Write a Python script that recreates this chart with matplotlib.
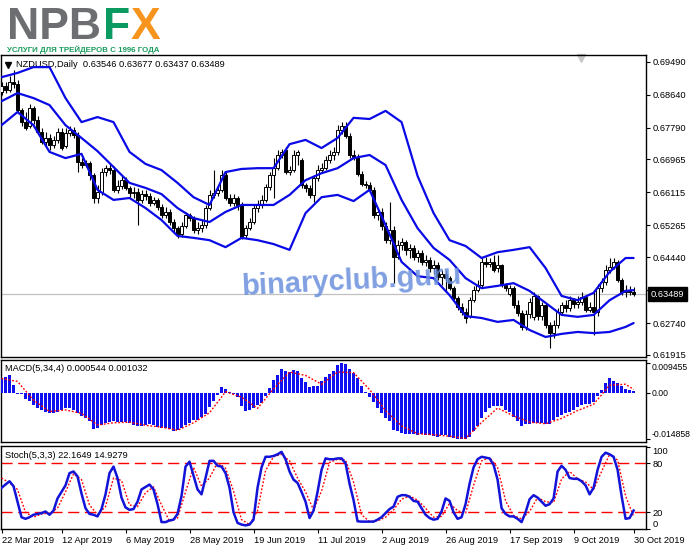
import matplotlib
matplotlib.use("Agg")
import matplotlib.pyplot as plt
import numpy as np

W, H = 691, 549

# NZDUSD daily candles, 22 Mar 2019 .. 30 Oct 2019
OPEN = [
    0.6871, 0.6886, 0.6876, 0.6897, 0.6892, 0.6824, 0.6793, 0.6783, 0.6829, 0.6798,
    0.6767, 0.6742, 0.6752, 0.6734, 0.6747, 0.6767, 0.6731, 0.6765, 0.6773, 0.6760,
    0.6690, 0.6682, 0.6687, 0.6656, 0.6597, 0.6612, 0.6664, 0.6674, 0.6669, 0.6618,
    0.6628, 0.6643, 0.6623, 0.6610, 0.6612, 0.6592, 0.6607, 0.6602, 0.6584, 0.6592,
    0.6574, 0.6553, 0.6561, 0.6535, 0.6519, 0.6504, 0.6525, 0.6553, 0.6545, 0.6514,
    0.6519, 0.6527, 0.6571, 0.6605, 0.6610, 0.6618, 0.6656, 0.6597, 0.6584, 0.6597,
    0.6579, 0.6501, 0.6519, 0.6535, 0.6571, 0.6579, 0.6592, 0.6625, 0.6656, 0.6674,
    0.6708, 0.6721, 0.6664, 0.6669, 0.6708, 0.6695, 0.6631, 0.6623, 0.6605, 0.6649,
    0.6669, 0.6674, 0.6695, 0.6708, 0.6716, 0.6773, 0.6783, 0.6757, 0.6708, 0.6703,
    0.6659, 0.6633, 0.6631, 0.6618, 0.6553, 0.6561, 0.6525, 0.6488, 0.6514, 0.6445,
    0.6476, 0.6483, 0.6463, 0.6468, 0.6445, 0.6455, 0.6432, 0.6437, 0.6416, 0.6424,
    0.6393, 0.6401, 0.6390, 0.6364, 0.6339, 0.6315, 0.6302, 0.6292, 0.6333, 0.6359,
    0.6372, 0.6432, 0.6427, 0.6432, 0.6416, 0.6424, 0.6372, 0.6349, 0.6364, 0.6320,
    0.6300, 0.6264, 0.6297, 0.6290, 0.6344, 0.6292, 0.6320, 0.6269, 0.6248, 0.6269,
    0.6302, 0.6320, 0.6313, 0.6333, 0.6323, 0.6328, 0.6341, 0.6308, 0.6315, 0.6302,
    0.6364, 0.6380, 0.6411, 0.6419, 0.6432, 0.6385, 0.6354, 0.6359, 0.63546,
]
HIGH = [
    0.6897, 0.6897, 0.6912, 0.6928, 0.6902, 0.6829, 0.6819, 0.6840, 0.6835, 0.6809,
    0.6778, 0.6767, 0.6762, 0.6757, 0.6778, 0.6778, 0.6778, 0.6783, 0.6780, 0.6767,
    0.6700, 0.6695, 0.6693, 0.6662, 0.6631, 0.6674, 0.6682, 0.6685, 0.6680, 0.6643,
    0.6654, 0.6651, 0.6628, 0.6625, 0.6623, 0.6618, 0.6618, 0.6610, 0.6600, 0.6597,
    0.6582, 0.6574, 0.6569, 0.6543, 0.6525, 0.6535, 0.6561, 0.6558, 0.6550, 0.6535,
    0.6540, 0.6579, 0.6618, 0.6669, 0.6628, 0.6669, 0.6664, 0.6607, 0.6607, 0.6602,
    0.6587, 0.6527, 0.6545, 0.6579, 0.6592, 0.6605, 0.6633, 0.6664, 0.6700, 0.6721,
    0.6724, 0.6729, 0.6680, 0.6721, 0.6721, 0.6700, 0.6636, 0.6631, 0.6656, 0.6682,
    0.6687, 0.6705, 0.6721, 0.6729, 0.6785, 0.6793, 0.6793, 0.6765, 0.6721, 0.6711,
    0.6667, 0.6641, 0.6638, 0.6625, 0.6566, 0.6571, 0.6535, 0.6587, 0.6525, 0.6488,
    0.6494, 0.6488, 0.6478, 0.6476, 0.6463, 0.6463, 0.6450, 0.6445, 0.6437, 0.6432,
    0.6411, 0.6411, 0.6395, 0.6370, 0.6344, 0.6326, 0.6313, 0.6341, 0.6370, 0.6385,
    0.6445, 0.6445, 0.6442, 0.6450, 0.6450, 0.6427, 0.6377, 0.6372, 0.6370, 0.6333,
    0.6308, 0.6308, 0.6339, 0.6354, 0.6346, 0.6328, 0.6326, 0.6277, 0.6282, 0.6313,
    0.6328, 0.6333, 0.6344, 0.6339, 0.6344, 0.6354, 0.6346, 0.6328, 0.6359, 0.6375,
    0.6390, 0.6424, 0.6442, 0.6442, 0.6437, 0.6390, 0.6372, 0.6370, 0.63677,
]
LOW = [
    0.6863, 0.6868, 0.6871, 0.6881, 0.6817, 0.6783, 0.6773, 0.6778, 0.6788, 0.6762,
    0.6737, 0.6731, 0.6721, 0.6726, 0.6739, 0.6721, 0.6726, 0.6757, 0.6752, 0.6664,
    0.6674, 0.6677, 0.6643, 0.6584, 0.6584, 0.6605, 0.6654, 0.6659, 0.6612, 0.6610,
    0.6620, 0.6618, 0.6600, 0.6597, 0.6527, 0.6584, 0.6592, 0.6576, 0.6579, 0.6566,
    0.6545, 0.6545, 0.6527, 0.6509, 0.6494, 0.6496, 0.6519, 0.6538, 0.6507, 0.6504,
    0.6509, 0.6519, 0.6566, 0.6597, 0.6602, 0.6612, 0.6592, 0.6576, 0.6576, 0.6566,
    0.6491, 0.6494, 0.6514, 0.6530, 0.6561, 0.6571, 0.6587, 0.6618, 0.6597, 0.6669,
    0.6700, 0.6659, 0.6656, 0.6664, 0.6682, 0.6623, 0.6612, 0.6597, 0.6587, 0.6641,
    0.6662, 0.6669, 0.6687, 0.6695, 0.6708, 0.6762, 0.6752, 0.6700, 0.6695, 0.6654,
    0.6628, 0.6623, 0.6612, 0.6545, 0.6540, 0.6514, 0.6481, 0.6478, 0.6377, 0.6439,
    0.6463, 0.6450, 0.6442, 0.6437, 0.6432, 0.6424, 0.6421, 0.6406, 0.6401, 0.6385,
    0.6372, 0.6354, 0.6359, 0.6333, 0.6308, 0.6295, 0.6274, 0.6287, 0.6328, 0.6354,
    0.6367, 0.6419, 0.6419, 0.6406, 0.6406, 0.6367, 0.6357, 0.6344, 0.6313, 0.6292,
    0.6256, 0.6256, 0.6287, 0.6282, 0.6282, 0.6282, 0.6261, 0.6209, 0.6235, 0.6261,
    0.6295, 0.6302, 0.6305, 0.6313, 0.6313, 0.6320, 0.6302, 0.6302, 0.6243, 0.6292,
    0.6354, 0.6372, 0.6403, 0.6413, 0.6380, 0.6346, 0.6341, 0.6346, 0.63437,
]
CLOSE = [
    0.6886, 0.6876, 0.6897, 0.6892, 0.6824, 0.6793, 0.6778, 0.6829, 0.6798, 0.6767,
    0.6742, 0.6752, 0.6734, 0.6747, 0.6767, 0.6726, 0.6765, 0.6773, 0.6760, 0.6690,
    0.6682, 0.6687, 0.6656, 0.6597, 0.6612, 0.6664, 0.6674, 0.6669, 0.6618, 0.6628,
    0.6643, 0.6623, 0.6610, 0.6612, 0.6592, 0.6607, 0.6602, 0.6584, 0.6592, 0.6574,
    0.6553, 0.6561, 0.6535, 0.6519, 0.6504, 0.6525, 0.6553, 0.6545, 0.6514, 0.6519,
    0.6527, 0.6571, 0.6605, 0.6610, 0.6618, 0.6656, 0.6597, 0.6584, 0.6597, 0.6579,
    0.6496, 0.6519, 0.6535, 0.6571, 0.6579, 0.6592, 0.6625, 0.6656, 0.6674, 0.6708,
    0.6716, 0.6664, 0.6669, 0.6708, 0.6716, 0.6631, 0.6623, 0.6605, 0.6649, 0.6669,
    0.6674, 0.6695, 0.6708, 0.6716, 0.6773, 0.6783, 0.6757, 0.6708, 0.6703, 0.6659,
    0.6633, 0.6631, 0.6618, 0.6553, 0.6561, 0.6525, 0.6488, 0.6514, 0.6445, 0.6476,
    0.6483, 0.6463, 0.6468, 0.6445, 0.6455, 0.6432, 0.6437, 0.6416, 0.6424, 0.6393,
    0.6401, 0.6390, 0.6364, 0.6339, 0.6315, 0.6302, 0.6287, 0.6333, 0.6359, 0.6372,
    0.6432, 0.6427, 0.6432, 0.6411, 0.6424, 0.6372, 0.6364, 0.6364, 0.6320, 0.6300,
    0.6264, 0.6297, 0.6328, 0.6344, 0.6292, 0.6320, 0.6269, 0.6248, 0.6269, 0.6302,
    0.6320, 0.6313, 0.6333, 0.6323, 0.6328, 0.6341, 0.6308, 0.6315, 0.6302, 0.6364,
    0.6380, 0.6411, 0.6419, 0.6432, 0.6385, 0.6354, 0.6359, 0.6354, 0.63489,
]

# Bollinger bands, read every 4th bar
BAND_IDX = list(range(0, 157, 4)) + [158]
BB_UPPER = [
    0.6909, 0.6920, 0.6935, 0.6935, 0.6855, 0.6793, 0.6806, 0.6793, 0.6716, 0.6685,
    0.6669, 0.6636, 0.6599, 0.6579, 0.6664, 0.6672, 0.6674, 0.6674, 0.6736, 0.6747,
    0.6726, 0.6752, 0.6804, 0.6801, 0.6822, 0.6793, 0.6654, 0.6558, 0.6488, 0.6473,
    0.6442, 0.6457, 0.6463, 0.6470, 0.6416, 0.6344, 0.6333, 0.6352, 0.6406, 0.6442,
    0.6442,
]
BB_MIDDLE = [
    0.6847, 0.6868, 0.6855, 0.6837, 0.6785, 0.6752, 0.6718, 0.6677, 0.6636, 0.6623,
    0.6607, 0.6571, 0.6545, 0.6535, 0.6561, 0.6579, 0.6579, 0.6579, 0.6605, 0.6643,
    0.6661, 0.6674, 0.6700, 0.6708, 0.6682, 0.6592, 0.6519, 0.6468, 0.6437, 0.6390,
    0.6364, 0.6370, 0.6377, 0.6357, 0.6326, 0.6295, 0.6290, 0.6295, 0.6333, 0.6357,
    0.6359,
]
BB_LOWER = [
    0.6785, 0.6819, 0.6785, 0.6716, 0.6700, 0.6711, 0.6618, 0.6592, 0.6597, 0.6571,
    0.6540, 0.6499, 0.6494, 0.6488, 0.6470, 0.6494, 0.6488, 0.6478, 0.6463, 0.6558,
    0.6599, 0.6605, 0.6589, 0.6618, 0.6527, 0.6432, 0.6395, 0.6390, 0.6346, 0.6292,
    0.6287, 0.6277, 0.6282, 0.6256, 0.6238, 0.6246, 0.6251, 0.6248, 0.6251, 0.6264,
    0.6274,
]

MACD_HIST = [
    0.0048, 0.0050, 0.0055, 0.0024, -0.0003, -0.0005, -0.0019, -0.0028, -0.0040, -0.0048,
    -0.0054, -0.0062, -0.0065, -0.0064, -0.0062, -0.0055, -0.0050, -0.0048, -0.0055, -0.0065,
    -0.0074, -0.0080, -0.0090, -0.0116, -0.0113, -0.0104, -0.0096, -0.0092, -0.0090, -0.0092,
    -0.0094, -0.0094, -0.0098, -0.0103, -0.0105, -0.0105, -0.0102, -0.0101, -0.0104, -0.0110,
    -0.0112, -0.0113, -0.0116, -0.0123, -0.0120, -0.0114, -0.0104, -0.0096, -0.0088, -0.0088,
    -0.0078, -0.0068, -0.0046, -0.0026, -0.0008, 0.0018, 0.0011, 0.0003, -0.0004, -0.0013,
    -0.0041, -0.0057, -0.0055, -0.0048, -0.0040, -0.0033, -0.0010, 0.0014, 0.0040, 0.0058,
    0.0077, 0.0069, 0.0066, 0.0073, 0.0069, 0.0047, 0.0033, 0.0018, 0.0020, 0.0022,
    0.0036, 0.0050, 0.0060, 0.0069, 0.0088, 0.009455, 0.0090, 0.0077, 0.0062, 0.0046,
    0.0022, 0.0003, -0.0013, -0.0030, -0.0050, -0.0066, -0.0081, -0.0090, -0.0120, -0.0123,
    -0.0129, -0.0131, -0.0132, -0.0133, -0.0134, -0.0132, -0.0134, -0.0134, -0.0138, -0.0140,
    -0.0136, -0.0134, -0.0140, -0.0145, -0.0147, -0.0148, -0.014858, -0.0140, -0.0123, -0.0105,
    -0.0081, -0.0063, -0.0048, -0.0041, -0.0041, -0.0044, -0.0055, -0.0063, -0.0077, -0.0090,
    -0.0105, -0.0099, -0.0099, -0.0096, -0.0098, -0.0098, -0.0099, -0.0101, -0.0088, -0.0077,
    -0.0070, -0.0066, -0.0060, -0.0054, -0.0045, -0.0038, -0.0035, -0.0036, -0.0030, -0.0012,
    0.0010, 0.0030, 0.0047, 0.0038, 0.0030, 0.0020, 0.0012, 0.0008, 0.000544,
]
MACD_SIGNAL = [
    0.0045, 0.0036, -0.0024, -0.0060, -0.0055, -0.0066, -0.0103, -0.0096, -0.0094, -0.0104,
    -0.0110, -0.0120, -0.0096, -0.0064, 0.0003, -0.0014, -0.0050, 0.0012, 0.0066, 0.0055,
    0.0027, 0.0066, 0.0064, 0.0010, -0.0057, -0.0106, -0.0131, -0.0134, -0.0139, -0.0146,
    -0.0095, -0.0049, -0.0074, -0.0094, -0.0099, -0.0082, -0.0057, -0.0037, 0.0024, 0.0027,
    0.001032,
]

STOCH_K = [
    50, 54, 58, 52, 33, 14, 12, 14, 17, 18,
    19, 21, 17, 22, 37, 45, 53, 68, 70, 64,
    43, 25, 18, 17, 15, 24, 42, 68, 76, 62,
    38, 26, 23, 24, 33, 48, 51, 54, 48, 30,
    8, 8, 10, 11, 18, 40, 76, 82, 65, 48,
    42, 62, 83, 83, 77, 76, 68, 50, 20, 7,
    5, 4, 5, 11, 50, 75, 88, 88, 89, 91,
    94, 85, 70, 60, 56, 45, 33, 13, 22, 45,
    72, 86, 85, 85, 86, 86, 80, 55, 35, 9,
    8.6, 8.6, 8.6, 8.6, 11, 14, 19, 24, 27, 39,
    41, 41, 39, 34, 33, 25, 17, 13, 11, 12,
    21, 37, 34, 20, 12, 14, 30, 55, 75, 85,
    88, 87, 86, 78, 60, 25, 18, 15, 15, 12,
    8, 20, 36, 41, 38, 33, 28, 30, 37, 70,
    77, 72, 62, 61, 61, 58, 53, 42, 50, 72,
    88, 93, 91, 88, 72, 40, 12, 13, 22.1649,
]
STOCH_D_IDX = list(range(0, 159, 2))
STOCH_D = [
    62, 56, 48, 20, 14, 18, 19, 25, 45, 67,
    60, 29, 17, 27, 62, 59, 29, 27, 44, 51,
    29, 9, 13, 45, 75, 52, 62, 81, 74, 46,
    11, 5, 22, 71, 88, 91, 83, 62, 45, 23,
    46, 81, 85, 84, 57, 17, 8.6, 9.5, 14, 23,
    36, 40, 35, 25, 14, 15, 31, 22, 19, 53,
    83, 87, 75, 34, 16, 12, 21, 38, 33, 32,
    61, 70, 61, 57, 48, 70, 91, 84, 40, 14.9279,
]

PRICE_TICKS = [0.69490, 0.68640, 0.67790, 0.66965, 0.66115, 0.65265,
               0.64440, 0.63590, 0.62740, 0.61915]
DATE_TICK_IDX = [0, 15, 31, 47, 63, 79, 95, 111, 127, 143, 158]
DATE_LABELS = ["22 Mar 2019", "12 Apr 2019", "6 May 2019", "28 May 2019",
               "19 Jun 2019", "11 Jul 2019", "2 Aug 2019", "26 Aug 2019",
               "17 Sep 2019", "9 Oct 2019", "30 Oct 2019"]

FS = 6.7
BAND_COLOR = "#0a0ae6"


def px_box(left, top, right, bottom):
    return [left / W, 1 - bottom / H, (right - left) / W, (bottom - top) / H]


def style_panel(ax):
    for sp in ax.spines.values():
        sp.set_color("black")
        sp.set_linewidth(1.0)
    ax.set_xlim(-0.25, 161.1)
    ax.yaxis.tick_right()
    ax.tick_params(axis="y", length=3, width=0.8, pad=1.5, labelsize=FS, colors="black")
    ax.tick_params(axis="x", length=0, labelbottom=False)


def main():
    plt.rcParams["font.family"] = ["Liberation Sans", "DejaVu Sans"]
    fig = plt.figure(figsize=(W / 100, H / 100), dpi=100, facecolor="white")

    idx = np.arange(len(CLOSE))
    o = np.array(OPEN)
    c = np.array(CLOSE)

    # ---- price panel
    ax = fig.add_axes(px_box(0.5, 55, 646, 357))
    style_panel(ax)
    ax.set_ylim(0.61863, 0.69663)
    ax.set_yticks(PRICE_TICKS)
    ax.set_yticklabels([f"{t:.5f}" for t in PRICE_TICKS])

    ax.axhline(CLOSE[-1], color="#c0c0c0", lw=0.9, zorder=1)
    ax.vlines(idx, LOW, HIGH, colors="black", linewidth=0.8, zorder=3)
    bull = c >= o
    ax.bar(idx[bull], (c - o)[bull], bottom=o[bull], width=0.62, color="white",
           edgecolor="black", linewidth=0.7, zorder=4)
    ax.bar(idx[~bull], (o - c)[~bull], bottom=c[~bull], width=0.62, color="black",
           edgecolor="black", linewidth=0.7, zorder=4)

    for band in (BB_UPPER, BB_MIDDLE, BB_LOWER):
        ax.plot(BAND_IDX, band, color=BAND_COLOR, lw=1.6, zorder=5, solid_capstyle="round")

    ax.plot([8 / 646], [0.967], marker="v", ms=4, color="black", transform=ax.transAxes)
    ax.text(16 / 646, 0.967, "NZDUSD,Daily  0.63546 0.63677 0.63437 0.63489",
            transform=ax.transAxes, fontsize=FS, va="center", ha="left")
    ax.plot([581 / 646], [0.99], marker="v", ms=6, color="#c8c8c8",
            transform=ax.transAxes, clip_on=False)
    ax.text(0.543, 0.252, "binaryclub.guru", transform=ax.transAxes, rotation=3,
            fontsize=21, fontweight="bold", color="#6a8fdc", alpha=0.85,
            ha="center", va="center", zorder=6)
    # last price marker; it sits over the 0.63590 scale label as in the terminal
    ax.text(1.007, CLOSE[-1], f"{CLOSE[-1]:.5f}", transform=ax.get_yaxis_transform(),
            fontsize=FS, color="white", va="center", ha="left", zorder=10, clip_on=False,
            bbox=dict(boxstyle="square,pad=0.3", fc="black", ec="black"))

    # ---- MACD panel
    ax2 = fig.add_axes(px_box(0.5, 360, 646, 442))
    style_panel(ax2)
    ax2.tick_params(axis="y", labelsize=6.2, pad=1.2)
    ax2.set_ylim(-0.01573, 0.01043)
    ax2.bar(idx, MACD_HIST, width=0.7, color="#1010f0", linewidth=0, zorder=3)
    ax2.plot(BAND_IDX, MACD_SIGNAL, color="red", lw=1.0, ls=(0, (1.3, 1.3)), zorder=4)
    ax2.set_yticks([0.009455, 0.0, -0.014858])
    labels = ax2.set_yticklabels(["0.009455", "0.00", "-0.014858"])
    labels[0].set_va("top")
    labels[2].set_va("bottom")
    ax2.text(5 / 646, 0.9, "MACD(5,34,4) 0.000544 0.001032", transform=ax2.transAxes,
             fontsize=FS, va="center", ha="left")

    # ---- Stochastic panel
    ax3 = fig.add_axes(px_box(0.5, 446, 646, 529))
    style_panel(ax3)
    ax3.set_ylim(-0.44, 101.2)
    for lvl in (80, 20):
        ax3.axhline(lvl, color="red", lw=1.0, ls=(0, (8, 4)), zorder=2)
    ax3.plot(STOCH_D_IDX, STOCH_D, color="red", lw=1.0, ls=(0, (1.3, 1.3)), zorder=3)
    ax3.plot(idx, STOCH_K, color="#1212d8", lw=1.8, zorder=4)
    ax3.set_yticks([100, 80, 20, 0])
    labels = ax3.set_yticklabels(["100", "80", "20", "0"])
    labels[0].set_va("top")
    labels[3].set_va("bottom")
    ax3.text(5 / 646, 0.89, "Stoch(5,3,3) 22.1649 14.9279", transform=ax3.transAxes,
             fontsize=FS, va="center", ha="left")
    ax3.set_xticks(DATE_TICK_IDX)
    ax3.set_xticklabels(DATE_LABELS, ha="left")
    ax3.tick_params(axis="x", length=3, width=0.8, pad=2, labelsize=FS,
                    labelbottom=True)

    # ---- logo
    fig.text(7 / W, 1 - 39 / H, "NPB", fontsize=32, fontweight="bold",
             color="#6d6e71", va="baseline", ha="left")
    fig.text(103 / W, 1 - 39 / H, "F", fontsize=32, fontweight="bold",
             color="#0a9a62", va="baseline", ha="left")
    fig.text(131 / W, 1 - 39 / H, "X", fontsize=32, fontweight="bold",
             color="#f7941d", va="baseline", ha="left")
    fig.text(7 / W, 1 - 51.5 / H, "УСЛУГИ ДЛЯ ТРЕЙДЕРОВ С 1996 ГОДА", fontsize=5.7,
             fontweight="bold", color="#1a9a5c", va="baseline", ha="left")

    fig.savefig("out.png", dpi=100, facecolor="white")


if __name__ == "__main__":
    main()
